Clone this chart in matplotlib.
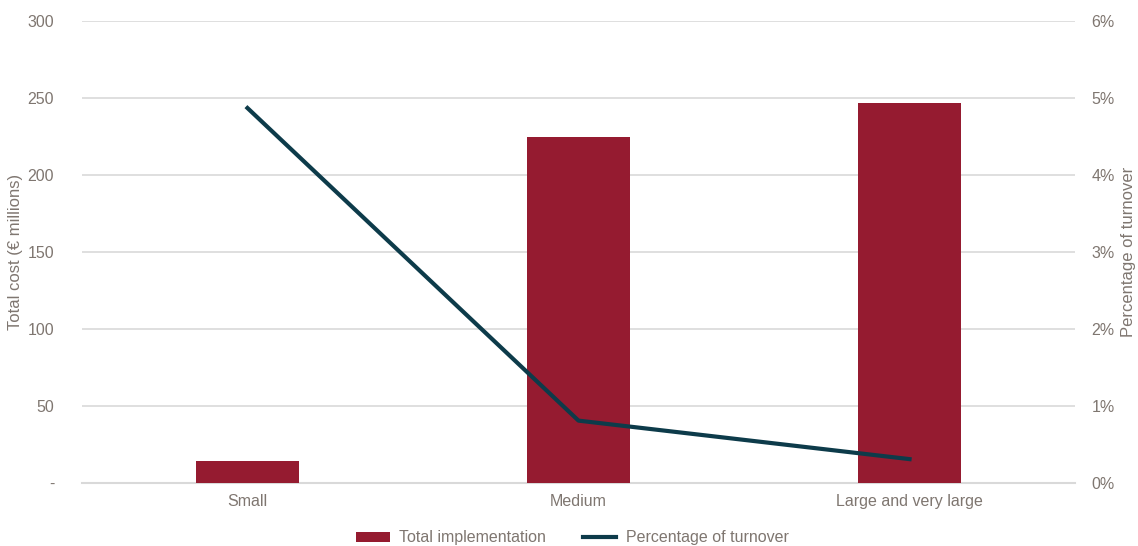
import matplotlib
matplotlib.use('Agg')
from matplotlib import pyplot as plt
from matplotlib.ticker import FuncFormatter
import numpy as np

categories = ['Small', 'Medium', 'Large and very large']
total_cost = [14, 225, 247]            # € millions
pct_turnover = [4.87, 0.81, 0.31]      # %

bar_color = '#951b30'
line_color = '#0d3b4a'
text_color = '#7f7670'
grid_color = '#d9d9d9'

plt.rcParams['font.family'] = ['Liberation Sans', 'DejaVu Sans']
plt.rcParams['font.size'] = 11.5

fig = plt.figure(figsize=(11.38, 5.46), dpi=100)
ax = fig.add_axes([0.072, 0.1154, 0.8727, 0.8461])
x = np.arange(len(categories))

ax.bar(x, total_cost, width=0.31, color=bar_color, zorder=2, label='Total implementation')
ax.set_xlim(-0.5, len(categories) - 0.5)
ax.set_ylim(0, 300)
ax.set_yticks(range(0, 301, 50))
ax.yaxis.set_major_formatter(FuncFormatter(lambda v, p: '-' if v == 0 else f'{int(v)}'))
ax.set_xticks(x)
ax.set_xticklabels(categories)
ax.grid(axis='y', color=grid_color, linewidth=1.2, zorder=0)
ax.axhline(0, color=grid_color, linewidth=1.5, zorder=1, clip_on=False)
ax.set_ylabel('Total cost (€ millions)', color=text_color, fontsize=12)
ax.yaxis.set_label_coords(-0.059, 0.5)

ax2 = ax.twinx()
ax2.plot(x, pct_turnover, color=line_color, linewidth=3, label='Percentage of turnover', zorder=3)
ax2.set_ylim(0, 6)
ax2.set_yticks(range(0, 7))
ax2.yaxis.set_major_formatter(FuncFormatter(lambda v, p: f'{int(v)}%'))
ax2.set_ylabel('Percentage of turnover', color=text_color, fontsize=12)
ax2.yaxis.set_label_coords(1.046, 0.5)

for a in (ax, ax2):
    for s in a.spines.values():
        s.set_visible(False)
    a.tick_params(length=0, colors=text_color, labelsize=11.5)
ax.tick_params(axis='y', pad=20)
ax.tick_params(axis='x', pad=8)
ax2.tick_params(axis='y', pad=12)

h1, l1 = ax.get_legend_handles_labels()
h2, l2 = ax2.get_legend_handles_labels()
leg = fig.legend(h1 + h2, l1 + l2, loc='lower center', bbox_to_anchor=(0.503, -0.025),
                 ncol=2, frameon=False, handlelength=2.1, handleheight=0.6,
                 handletextpad=0.6, columnspacing=2.3, fontsize=11.5)
for t in leg.get_texts():
    t.set_color(text_color)

fig.savefig('out.png', dpi=100)
